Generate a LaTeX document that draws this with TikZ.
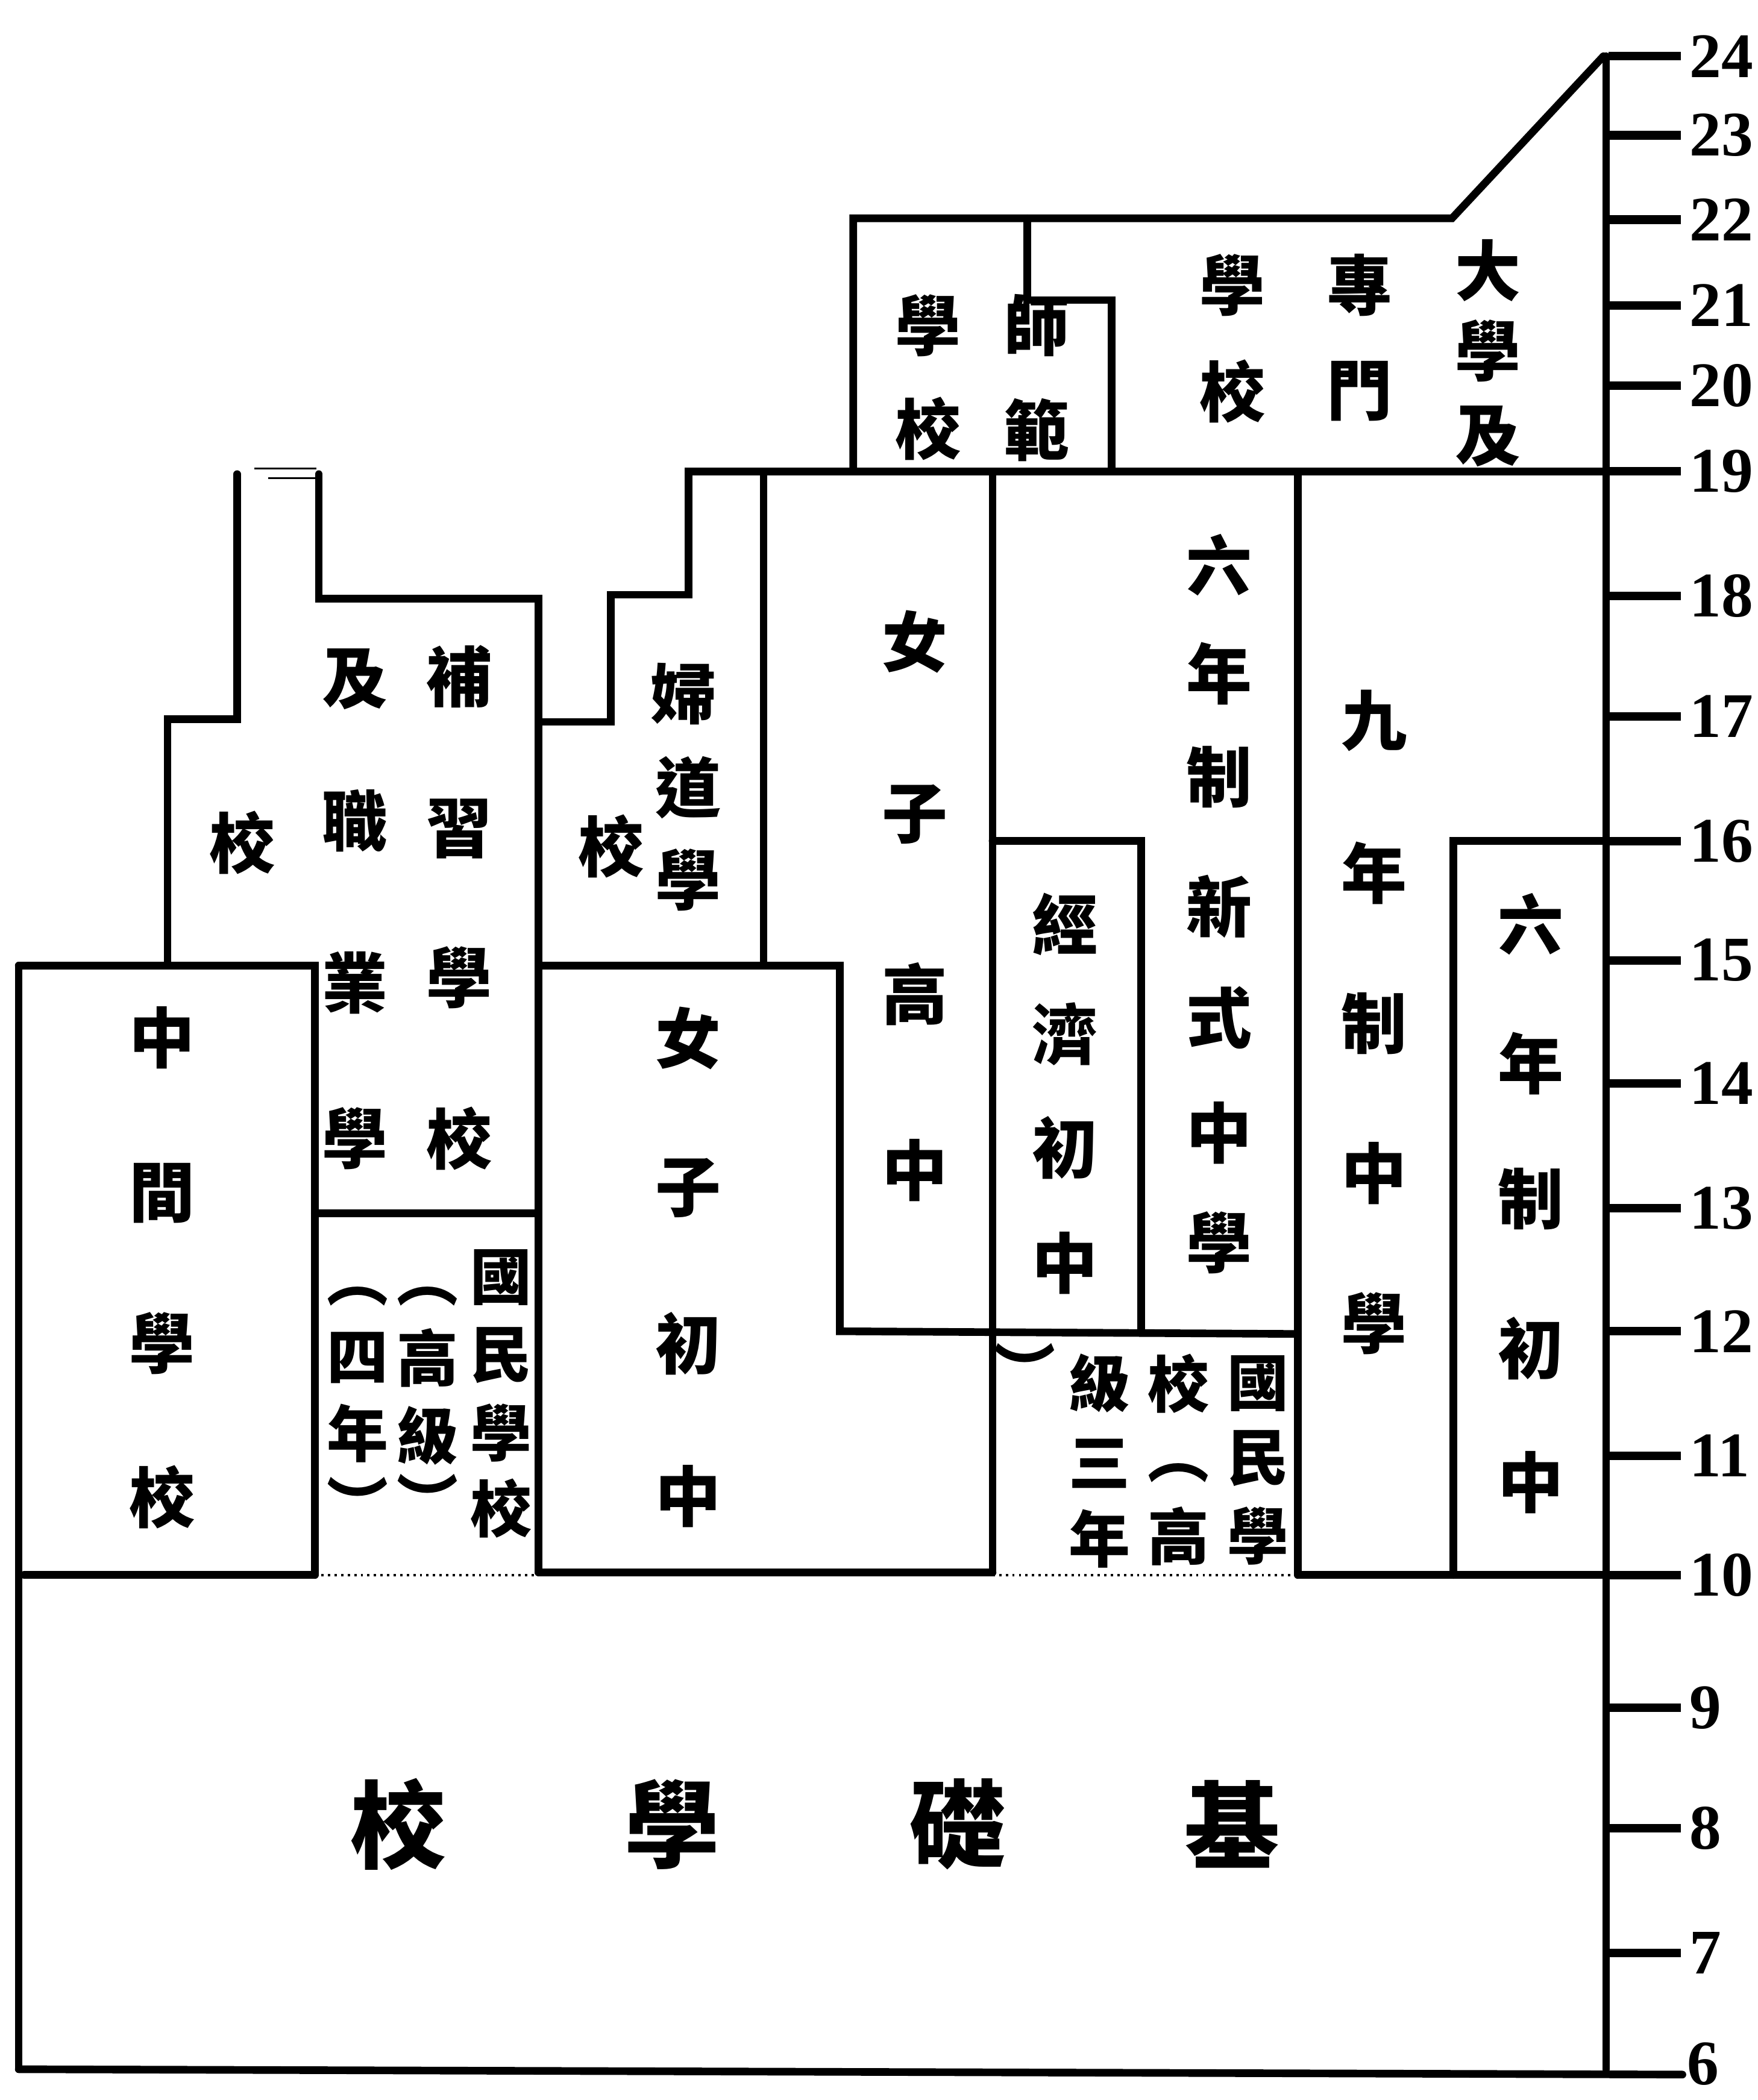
\documentclass[tikz,border=0pt]{standalone}
\usepackage{fontspec}
\setmainfont{Liberation Serif}
\newfontfamily\cjk{Noto Sans CJK TC}
\begin{document}
\begin{tikzpicture}[x=0.022226cm,y=-0.022226cm,
  wall/.style={line width=3.6pt, line cap=round, line join=miter},
  dotline/.style={line width=1.1pt, dotted},
  faint/.style={line width=0.9pt},
  tickline/.style={line width=4pt},
  ch/.style={font=\cjk\bfseries\fontsize{31}{31}\selectfont, inner sep=0pt},
  chs/.style={font=\cjk\bfseries\fontsize{29}{29}\selectfont, inner sep=0pt},
  chb/.style={font=\cjk\bfseries\fontsize{45}{45}\selectfont, inner sep=0pt},
  num/.style={font=\fontsize{30}{30}\selectfont\bfseries, anchor=west, inner sep=0pt, xshift=2pt}]
\path[fill=white] (0,0) rectangle (1312,1568);
\useasboundingbox (0,0) rectangle (1312,1568);

% ---- base and axis
\draw[wall] (14,721) -- (14,1545);
\draw[wall] (14,1545) -- (1256,1549);
\draw[wall] (1199,42) -- (1199,1545);
% line at age 10
\draw[wall] (18,1176) -- (235,1176);
\draw[dotline] (235,1176) -- (402,1176);
\draw[wall] (402,1174) -- (741,1174);
\draw[dotline] (741,1176) -- (969,1176);
\draw[wall] (969,1176) -- (1199,1176);
% middle school box
\draw[wall] (14,721) -- (235,721) -- (235,1176);
% supplementary / vocational block
\draw[wall] (125,721) -- (125,537) -- (177,537) -- (177,354);
\draw[faint] (190,350) -- (236,350);
\draw[faint] (200,357) -- (236,357);
\draw[wall] (238,354) -- (238,447) -- (402,447) -- (402,1174);
\draw[wall] (235,906) -- (402,906);
% women's school block and line at 19
\draw[wall] (402,539) -- (456,539) -- (456,444) -- (514,444) -- (514,352) -- (1199,352);
\draw[wall] (570,352) -- (570,721);
\draw[wall] (402,721) -- (627,721) -- (627,994) -- (969,996);
\draw[wall] (741,352) -- (741,1174);
\draw[wall] (741,628) -- (852,628) -- (852,994);
\draw[wall] (969,352) -- (969,1176);
\draw[wall] (1085,1176) -- (1085,628) -- (1199,628);
% top block
\draw[wall] (637,352) -- (637,163) -- (1084,163) -- (1197,42);
\draw[wall] (767,163) -- (767,224) -- (830,224) -- (830,352);

% ---- ticks and ages
\foreach \v/\y in {24/42,23/101,22/164,21/228,20/288,19/352,18/445,17/535,16/628,15/717,14/809,13/902,12/994,11/1087,10/1176,9/1275,8/1365,7/1458}
  {\draw[tickline] (1201,\y) -- (1255,\y) node[num, name=age\v] {\v};}
\node[num, name=age6] at (1256,1541) {6};

% ---- texts
% top block
\foreach \c/\y [count=\i] in {學/243,校/320} \node[ch, name=ta\i] at (693,\y) {\c};
\foreach \c/\y [count=\i] in {師/243,範/321} \node[ch, name=tb\i] at (774,\y) {\c};
\foreach \c/\y [count=\i] in {學/213,校/292} \node[ch, name=tc\i] at (920,\y) {\c};
\foreach \c/\y [count=\i] in {專/213,門/292} \node[ch, name=td\i] at (1015,\y) {\c};
\foreach \c/\y [count=\i] in {大/202,學/262,及/326} \node[ch, name=te\i] at (1111,\y) {\c};
% supplementary / vocational
\foreach \c/\y [count=\i] in {補/505,習/619,學/730,校/850} \node[ch, name=ba\i] at (343,\y) {\c};
\foreach \c/\y [count=\i] in {及/507,職/613,業/734,學/850} \node[ch, name=bb\i] at (265,\y) {\c};
\node[ch, name=bc1] at (181,629) {校};
% middle school
\foreach \c/\y [count=\i] in {中/775,間/891,學/1003,校/1118} \node[ch, name=zj\i] at (121,\y) {\c};
% national school (higher, four years)
\foreach \c/\y [count=\i] in {國/954,民/1012,學/1070,校/1126} \node[chs, name=ga\i] at (374,\y) {\c};
\foreach \c/\y [count=\i] in {︵/968,高/1014,級/1072,︶/1120} \node[chs, name=gb\i] at (319,\y) {\c};
\foreach \c/\y [count=\i] in {︵/968,四/1014,年/1070,︶/1122} \node[chs, name=gc\i] at (267,\y) {\c};
% women's school
\node[ch, name=fa1] at (510,518) {婦};
\node[ch, name=fa2] at (514,588) {道};
\node[ch, name=fa3] at (514,657) {學};
\node[ch, name=fa4] at (456,632) {校};
% girls' junior middle
\foreach \c/\y [count=\i] in {女/775,子/887,初/1003,中/1117} \node[ch, name=nc\i] at (514,\y) {\c};
% girls' senior middle
\foreach \c/\y [count=\i] in {女/479,子/608,高/742,中/874} \node[ch, name=ng\i] at (683,\y) {\c};
% economic junior middle
\foreach \c/\y [count=\i] in {經/690,濟/772,初/857,中/943} \node[ch, name=jj\i] at (795,\y) {\c};
% six-year new-style middle
\foreach \c/\y [count=\i] in {六/422,年/503,制/580,新/677,式/760,中/846,學/928} \node[ch, name=lx\i] at (910,\y) {\c};
% nine-year middle
\foreach \c/\y [count=\i] in {九/538,年/652,制/764,中/876,學/988} \node[ch, name=jn\i] at (1026,\y) {\c};
% six-year junior middle
\foreach \c/\y [count=\i] in {六/690,年/794,制/895,初/1007,中/1107} \node[ch, name=lc\i] at (1143,\y) {\c};
% national school (higher, three years)
\foreach \c/\y [count=\i] in {國/1033,民/1089,學/1147} \node[chs, name=ha\i] at (939,\y) {\c};
\foreach \c/\y [count=\i] in {校/1033,︵/1100,高/1147} \node[chs, name=hb\i] at (880,\y) {\c};
\foreach \c/\y [count=\i] in {級/1033,三/1093,年/1149} \node[chs, name=hc\i] at (821,\y) {\c};
\node[chs, name=hd1] at (765,1022) {︶};
% basic school
\node[chb, name=jc1] at (297,1362) {校};
\node[chb, name=jc2] at (502,1362) {學};
\node[chb, name=jc3] at (715,1362) {礎};
\node[chb, name=jc4] at (920,1362) {基};
\end{tikzpicture}
\end{document}
